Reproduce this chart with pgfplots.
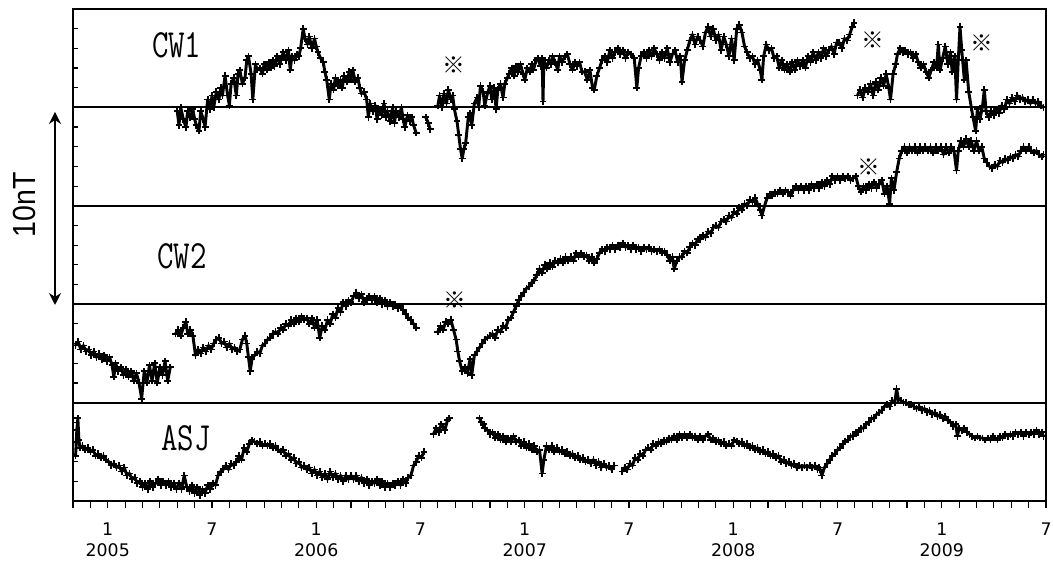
\documentclass[border=0pt]{standalone}
\usepackage{fontspec}
\usepackage{pgfplots}
\pgfplotsset{compat=1.18}
\usetikzlibrary{arrows.meta}
\newfontfamily\tickfnt{DejaVu Sans}
\newfontfamily\arialfnt{Liberation Sans}
\newfontfamily\cjkfnt{Noto Sans CJK JP}
\pgfplotsset{trace/.style={black, line width=2.2pt, line join=round, mark=+, mark size=2.6pt, mark options={line width=1.3pt}}}
\begin{document}
\begin{tikzpicture}
\begin{axis}[name=ax, scale only axis, width=729.75pt, height=369pt,
 xmin=-2, xmax=54, ymin=0, ymax=25,
 axis line style={line width=1.2pt},
 xtick={-2,...,54},
 xticklabels={,,{1\\[-2pt]2005},,,,,,7,,,,,,{1\\[-2pt]2006},,,,,,7,,,,,,{1\\[-2pt]2007},,,,,,7,,,,,,{1\\[-2pt]2008},,,,,,7,,,,,,{1\\[-2pt]2009},,,,,,7},
 xtick align=outside, xtick pos=bottom,
 ytick={1,...,24}, yticklabels={}, ytick align=inside, ytick pos=left,
 major tick length=3.5pt,
 xtick style={/pgfplots/major tick length=5pt},
 tick style={black, line width=0.9pt},
 xticklabel shift=9.5pt,
 xticklabel style={align=center, font={\tickfnt\fontsize{13}{17.5}\selectfont}},
 unbounded coords=jump, clip=false,
]
\draw[line width=1.4pt] (axis cs:-2,5) -- (axis cs:54,5);
\draw[line width=1.4pt] (axis cs:-2,10) -- (axis cs:54,10);
\draw[line width=1.4pt] (axis cs:-2,15) -- (axis cs:54,15);
\draw[line width=1.4pt] (axis cs:-2,20) -- (axis cs:54,20);
% CW1
\addplot[trace] coordinates {
(4.0,19.8) (4.1,19.1) (4.2,20.0) (4.35,19.4) (4.5,19.0) (4.6,19.8) (4.75,19.5) (4.9,19.9) (5.0,19.4) (5.1,19.1) (5.25,18.8) (5.35,19.8) (5.5,19.4) (5.6,19.0) (5.75,20.4) (5.9,19.9) (6.0,20.6) (6.1,20.0) (6.25,20.8) (6.4,20.4) (6.5,21.0) (6.6,20.6) (6.75,21.6) (6.9,20.6) (7.0,20.1) (7.1,21.2) (7.25,21.5) (7.4,20.6) (7.5,21.7) (7.6,21.9) (7.75,21.2) (7.9,21.5) (8.0,22.4) (8.1,22.6) (8.25,21.7) (8.35,20.4) (8.5,22.2) (8.6,21.9) (8.75,22.0) (8.9,21.7) (9.0,22.2) (9.15,21.9) (9.25,22.3) (9.4,22.0) (9.5,22.4) (9.6,22.1) (9.75,22.6) (9.9,22.2) (10.0,22.5) (10.1,22.8) (10.25,22.4) (10.4,22.9) (10.5,21.9) (10.6,22.6) (10.75,22.4) (10.9,22.7) (11.0,22.6) (11.1,23.0) (11.25,24.0) (11.35,23.5) (11.5,23.2) (11.6,23.6) (11.75,23.0) (11.9,23.5) (12.0,23.1) (12.1,22.8) (12.25,22.5) (12.4,22.3) (12.5,21.8) (12.6,21.4) (12.75,20.4) (12.85,21.2) (13.0,20.9) (13.1,21.5) (13.25,21.1) (13.4,21.4) (13.5,21.0) (13.6,21.6) (13.75,21.3) (13.9,21.8) (14.0,21.4) (14.1,21.9) (14.25,21.3) (14.4,21.5) (14.5,21.0) (14.6,20.7) (14.75,20.8) (14.9,20.4) (15.0,19.5) (15.1,20.2) (15.25,19.8) (15.4,20.1) (15.5,19.4) (15.6,19.9) (15.75,19.6) (15.9,20.2) (16.0,19.5) (16.1,19.8) (16.25,19.3) (16.4,20.0) (16.5,19.2) (16.6,19.8) (16.75,19.5) (16.9,20.0) (17.0,19.4) (17.1,19.0) (17.25,19.6) (17.4,19.3) (17.5,19.5) (17.6,19.1) (17.75,18.7) (17.8,nan)
(18.3,19.5) (18.45,19.2) (18.55,18.9) (18.6,nan)
(19.0,20.1) (19.1,20.6) (19.25,20.0) (19.35,20.7) (19.5,20.2) (19.6,20.9) (19.75,20.4) (19.85,20.6) (19.95,19.9) (20.1,19.3) (20.2,18.6) (20.3,17.9) (20.4,17.4) (20.5,17.9) (20.6,18.2) (20.75,19.5) (20.85,19.7) (20.95,19.1) (21.1,20.2) (21.25,20.5) (21.35,20.0) (21.45,21.1) (21.6,20.8) (21.7,20.1) (21.85,20.7) (22.0,21.1) (22.1,20.4) (22.25,21.0) (22.35,19.9) (22.45,20.9) (22.6,21.2) (22.75,20.5) (22.85,21.2) (23.0,21.5) (23.1,21.7) (23.25,22.0) (23.4,21.6) (23.5,22.1) (23.6,21.8) (23.75,22.2) (23.9,21.7) (24.0,21.4) (24.15,22.0) (24.3,21.8) (24.4,22.2) (24.5,21.9) (24.65,22.4) (24.75,22.5) (24.9,22.1) (25.0,22.5) (25.05,20.3) (25.1,22.4) (25.25,22.0) (25.4,22.4) (25.5,22.2) (25.6,22.6) (25.75,22.3) (25.9,21.9) (26.0,22.6) (26.15,22.3) (26.3,22.6) (26.45,22.7) (26.6,22.2) (26.75,21.9) (26.9,22.3) (27.0,22.1) (27.15,22.3) (27.3,21.8) (27.45,21.8) (27.6,21.4) (27.75,21.9) (27.9,21.0) (28.0,20.9) (28.15,21.6) (28.3,22.0) (28.45,22.4) (28.6,22.6) (28.75,22.3) (28.9,22.9) (29.05,22.5) (29.2,22.8) (29.35,23.0) (29.5,22.7) (29.65,22.9) (29.8,22.5) (29.95,22.8) (30.1,22.7) (30.3,22.5) (30.45,21.0) (30.55,22.0) (30.7,22.6) (30.85,22.8) (31.0,22.5) (31.15,22.9) (31.3,22.6) (31.45,23.0) (31.6,22.7) (31.75,22.4) (31.9,22.8) (32.05,22.5) (32.2,23.0) (32.35,22.3) (32.5,22.7) (32.65,22.9) (32.8,22.3) (32.95,22.6) (33.05,21.3) (33.2,22.4) (33.35,22.9) (33.5,23.4) (33.65,23.7) (33.8,23.2) (33.95,23.6) (34.1,23.4) (34.25,23.1) (34.4,23.8) (34.55,24.1) (34.7,23.6) (34.85,24.0) (35.0,23.4) (35.15,23.7) (35.3,22.9) (35.45,23.6) (35.6,23.2) (35.75,22.6) (35.9,23.5) (36.05,22.4) (36.2,24.0) (36.35,24.2) (36.5,23.8) (36.65,23.1) (36.8,22.8) (36.95,22.5) (37.1,22.6) (37.25,22.2) (37.4,22.4) (37.55,21.9) (37.65,21.4) (37.75,22.6) (37.9,23.2) (38.05,22.9) (38.2,23.0) (38.35,22.5) (38.5,22.6) (38.65,22.0) (38.8,22.4) (38.95,21.9) (39.1,22.2) (39.25,21.8) (39.4,22.3) (39.55,21.9) (39.7,22.4) (39.85,22.1) (40.0,22.4) (40.15,22.0) (40.3,22.6) (40.45,22.3) (40.6,22.8) (40.75,22.4) (40.9,22.8) (41.05,22.5) (41.2,23.0) (41.35,22.6) (41.5,22.9) (41.65,23.1) (41.8,22.7) (41.95,23.3) (42.1,23.3) (42.25,23.0) (42.4,23.5) (42.55,23.4) (42.7,23.7) (42.85,24.1) (42.95,24.3) (43.0,nan)
(43.15,20.6) (43.3,20.9) (43.45,20.5) (43.6,21.0) (43.75,20.8) (43.9,21.2) (44.05,20.6) (44.2,21.3) (44.35,20.9) (44.5,21.5) (44.65,21.1) (44.8,21.7) (44.95,21.0) (45.05,20.4) (45.2,21.7) (45.35,22.2) (45.45,22.7) (45.6,23.0) (45.75,22.8) (45.9,22.9) (46.05,22.7) (46.2,22.8) (46.35,22.5) (46.5,22.7) (46.65,22.3) (46.8,22.0) (46.95,22.2) (47.1,21.8) (47.25,21.5) (47.4,21.9) (47.55,22.3) (47.7,22.0) (47.8,23.2) (47.9,21.9) (48.05,22.5) (48.2,23.1) (48.35,22.2) (48.5,22.8) (48.6,21.8) (48.75,22.6) (48.85,20.4) (48.95,22.4) (49.05,24.1) (49.15,22.9) (49.3,21.4) (49.4,22.4) (49.55,20.8) (49.7,20.0) (49.8,19.5) (49.95,18.8) (50.05,19.9) (50.2,19.4) (50.35,20.1) (50.45,20.9) (50.55,19.8) (50.7,19.5) (50.85,19.8) (51.0,19.6) (51.15,19.9) (51.3,19.7) (51.45,20.1) (51.6,19.9) (51.75,20.4) (51.9,20.2) (52.05,20.5) (52.2,20.3) (52.35,20.6) (52.5,20.4) (52.65,20.5) (52.8,20.3) (52.95,20.4) (53.1,20.2) (53.25,20.4) (53.4,20.2) (53.55,20.3) (53.7,20.1) (53.85,20.0)
};
% CW2
\addplot[trace] coordinates {
(-1.85,7.9) (-1.7,8.1) (-1.55,7.7) (-1.4,7.9) (-1.25,7.6) (-1.1,7.7) (-0.95,7.4) (-0.8,7.6) (-0.65,7.3) (-0.5,7.5) (-0.35,7.2) (-0.2,7.4) (-0.05,7.1) (0.1,7.3) (0.25,6.9) (0.35,6.3) (0.45,7.0) (0.6,6.6) (0.75,6.8) (0.9,6.4) (1.05,6.7) (1.2,6.3) (1.35,6.6) (1.5,6.1) (1.65,6.5) (1.8,6.0) (1.95,5.2) (2.1,6.6) (2.25,6.0) (2.4,6.9) (2.55,6.1) (2.7,7.0) (2.85,6.0) (3.0,6.8) (3.15,6.4) (3.3,7.1) (3.45,6.1) (3.6,6.8) (3.7,nan)
(3.9,8.5) (4.05,8.7) (4.2,8.4) (4.35,8.8) (4.5,9.1) (4.6,8.5) (4.75,8.7) (4.9,8.4) (5.05,7.4) (5.2,7.7) (5.35,7.5) (5.5,7.8) (5.65,7.6) (5.8,7.9) (5.95,7.7) (6.1,8.0) (6.25,8.2) (6.4,8.3) (6.55,8.0) (6.7,8.1) (6.85,7.8) (7.0,8.0) (7.15,7.7) (7.3,7.8) (7.45,7.6) (7.6,7.7) (7.75,8.2) (7.9,8.4) (8.0,8.0) (8.1,7.3) (8.2,6.6) (8.3,7.2) (8.45,7.4) (8.6,7.6) (8.75,7.5) (8.9,7.9) (9.05,8.0) (9.2,8.2) (9.35,8.3) (9.5,8.5) (9.65,8.6) (9.8,8.5) (9.95,8.8) (10.1,8.7) (10.25,9.0) (10.4,8.9) (10.55,9.2) (10.7,9.0) (10.85,9.3) (11.0,9.1) (11.15,9.4) (11.3,9.2) (11.45,9.3) (11.6,9.0) (11.75,9.3) (11.9,8.8) (12.05,9.2) (12.2,8.3) (12.35,8.9) (12.5,8.7) (12.65,9.2) (12.8,9.0) (12.95,9.5) (13.1,9.3) (13.25,9.8) (13.4,9.6) (13.55,10.1) (13.7,9.9) (13.85,10.2) (14.0,10.1) (14.15,10.4) (14.3,10.6) (14.45,10.3) (14.6,10.5) (14.75,10.1) (14.9,10.3) (15.05,10.4) (15.2,10.2) (15.35,10.4) (15.5,10.1) (15.65,10.3) (15.8,10.0) (15.95,10.2) (16.1,9.9) (16.25,10.1) (16.4,9.9) (16.55,10.0) (16.7,9.8) (16.85,9.9) (17.0,9.7) (17.15,9.5) (17.3,9.3) (17.45,9.2) (17.6,9.0) (17.75,8.8) (17.8,nan)
(19.0,8.6) (19.15,8.9) (19.3,8.7) (19.45,9.1) (19.6,9.0) (19.75,9.2) (19.9,8.7) (20.05,8.2) (20.15,7.6) (20.25,7.1) (20.4,6.6) (20.55,6.8) (20.7,6.5) (20.85,7.2) (20.95,6.4) (21.1,7.4) (21.25,7.6) (21.4,7.8) (21.55,8.0) (21.7,8.2) (21.85,8.3) (22.0,8.4) (22.15,8.5) (22.3,8.3) (22.45,8.7) (22.6,8.6) (22.75,8.9) (22.9,8.8) (23.05,9.2) (23.2,9.3) (23.35,9.6) (23.5,9.9) (23.65,10.2) (23.8,10.4) (23.95,10.6) (24.1,10.8) (24.25,10.9) (24.4,11.1) (24.55,11.2) (24.7,11.5) (24.85,11.8) (25.0,11.6) (25.15,12.0) (25.3,11.8) (25.45,12.1) (25.6,11.9) (25.75,12.2) (25.9,12.1) (26.05,12.3) (26.2,12.1) (26.35,12.4) (26.5,12.2) (26.65,12.4) (26.8,12.2) (26.95,12.6) (27.1,12.4) (27.25,12.6) (27.4,12.4) (27.55,12.5) (27.7,12.2) (27.85,12.4) (28.0,12.1) (28.15,12.3) (28.3,12.6) (28.45,12.8) (28.6,12.7) (28.75,12.9) (28.9,12.8) (29.05,13.0) (29.2,12.8) (29.35,13.0) (29.5,12.9) (29.65,13.1) (29.8,12.9) (29.95,13.0) (30.1,12.8) (30.25,13.0) (30.4,12.8) (30.55,12.9) (30.7,12.7) (30.85,12.9) (31.0,12.8) (31.15,12.9) (31.3,12.7) (31.45,12.8) (31.6,12.7) (31.75,12.8) (31.9,12.6) (32.05,12.7) (32.2,12.5) (32.35,12.2) (32.5,12.4) (32.6,11.8) (32.75,12.2) (32.9,12.4) (33.05,12.4) (33.2,12.7) (33.35,12.6) (33.5,12.9) (33.65,13.1) (33.8,13.0) (33.95,13.3) (34.1,13.3) (34.25,13.5) (34.4,13.4) (34.55,13.7) (34.7,13.6) (34.85,13.9) (35.0,14.0) (35.15,13.9) (35.3,14.2) (35.45,14.3) (35.6,14.2) (35.75,14.5) (35.9,14.4) (36.05,14.7) (36.2,14.6) (36.35,14.9) (36.5,14.8) (36.65,15.1) (36.8,15.0) (36.95,15.3) (37.1,15.2) (37.25,15.4) (37.4,15.1) (37.55,14.8) (37.65,14.5) (37.8,15.0) (37.95,15.4) (38.1,15.6) (38.25,15.5) (38.4,15.7) (38.55,15.6) (38.7,15.8) (38.85,15.6) (39.0,15.8) (39.15,15.7) (39.3,15.5) (39.45,15.8) (39.6,16.0) (39.75,15.8) (39.9,16.0) (40.05,15.8) (40.2,16.0) (40.35,15.8) (40.5,16.1) (40.65,15.9) (40.8,16.1) (40.95,15.9) (41.1,16.2) (41.25,16.0) (41.4,16.3) (41.55,16.1) (41.7,16.5) (41.85,16.3) (42.0,16.5) (42.15,16.3) (42.3,16.5) (42.45,16.4) (42.6,16.5) (42.75,16.3) (42.9,16.4) (43.05,16.5) (43.2,16.0) (43.35,15.7) (43.5,16.0) (43.65,15.8) (43.8,16.1) (43.95,15.9) (44.1,16.2) (44.25,15.9) (44.4,16.1) (44.55,16.3) (44.7,15.6) (44.85,16.0) (45.0,15.1) (45.1,16.4) (45.25,15.8) (45.4,16.7) (45.55,17.4) (45.7,17.8) (45.85,18.0) (46.0,17.7) (46.15,18.0) (46.3,17.8) (46.45,18.0) (46.6,17.7) (46.75,18.0) (46.9,17.8) (47.05,18.0) (47.2,17.8) (47.35,18.0) (47.5,17.7) (47.65,18.0) (47.8,17.8) (47.95,18.0) (48.1,17.6) (48.25,18.0) (48.4,17.7) (48.55,18.0) (48.7,17.8) (48.85,16.8) (48.95,17.8) (49.1,18.3) (49.25,18.0) (49.4,18.4) (49.55,18.0) (49.7,18.3) (49.85,17.8) (50.0,18.3) (50.15,17.8) (50.3,18.0) (50.45,17.4) (50.6,17.2) (50.75,17.0) (50.9,16.9) (51.05,17.1) (51.2,17.0) (51.35,17.3) (51.5,17.2) (51.65,17.4) (51.8,17.3) (51.95,17.5) (52.1,17.4) (52.25,17.6) (52.4,17.5) (52.55,17.8) (52.7,18.0) (52.85,17.8) (53.0,18.0) (53.15,17.8) (53.3,17.7) (53.45,17.8) (53.6,17.6) (53.75,17.5) (53.85,17.6)
};
% ASJ
\addplot[trace] coordinates {
(-1.85,2.3) (-1.78,3.6) (-1.72,4.2) (-1.66,3.1) (-1.6,2.7) (-1.45,2.8) (-1.3,2.6) (-1.15,2.7) (-1.0,2.5) (-0.85,2.6) (-0.7,2.3) (-0.55,2.4) (-0.4,2.2) (-0.25,2.3) (-0.1,2.1) (0.05,2.0) (0.2,1.8) (0.35,1.9) (0.5,1.7) (0.65,1.8) (0.8,1.5) (0.95,1.7) (1.1,1.3) (1.25,1.4) (1.4,1.1) (1.55,1.2) (1.7,0.9) (1.85,1.0) (2.0,0.7) (2.15,0.9) (2.3,0.6) (2.45,1.0) (2.6,0.7) (2.75,0.9) (2.9,1.1) (3.05,0.8) (3.2,1.0) (3.35,0.8) (3.5,1.0) (3.65,0.7) (3.8,0.9) (3.95,0.6) (4.1,0.9) (4.25,0.6) (4.4,1.3) (4.55,0.7) (4.7,0.5) (4.85,0.8) (5.0,0.4) (5.15,0.7) (5.3,0.3) (5.45,0.6) (5.6,0.4) (5.75,0.8) (5.9,0.6) (6.05,0.9) (6.2,0.8) (6.35,1.3) (6.5,1.5) (6.65,1.6) (6.8,1.8) (6.95,1.6) (7.1,1.9) (7.25,1.8) (7.4,2.0) (7.55,2.3) (7.7,2.1) (7.85,2.7) (8.0,2.5) (8.15,2.9) (8.3,3.1) (8.45,3.0) (8.6,2.9) (8.75,3.0) (8.9,2.8) (9.05,2.9) (9.2,2.8) (9.35,2.9) (9.5,2.7) (9.65,2.8) (9.8,2.6) (9.95,2.5) (10.1,2.6) (10.25,2.3) (10.4,2.4) (10.55,2.1) (10.7,2.2) (10.85,1.9) (11.0,2.0) (11.15,1.7) (11.3,1.8) (11.45,1.6) (11.6,1.7) (11.75,1.4) (11.9,1.6) (12.05,1.3) (12.2,1.5) (12.35,1.2) (12.5,1.4) (12.65,1.1) (12.8,1.5) (12.95,1.2) (13.1,1.4) (13.25,1.1) (13.4,1.3) (13.55,1.0) (13.7,1.3) (13.85,1.1) (14.0,1.3) (14.15,1.1) (14.3,1.3) (14.45,1.0) (14.6,1.2) (14.75,0.9) (14.9,1.1) (15.05,0.8) (15.2,1.0) (15.35,0.9) (15.5,1.1) (15.65,0.8) (15.8,1.0) (15.95,0.7) (16.1,0.9) (16.25,0.7) (16.4,0.9) (16.55,0.8) (16.7,1.0) (16.85,0.8) (17.0,1.1) (17.15,0.9) (17.3,1.2) (17.45,1.3) (17.6,1.8) (17.75,2.0) (17.9,2.3) (18.05,2.2) (18.2,2.5) (18.3,nan)
(18.75,3.4) (18.9,3.7) (19.05,3.5) (19.2,3.9) (19.4,3.6) (19.55,4.1) (19.65,4.2) (19.7,nan)
(21.4,4.2) (21.5,4.0) (21.6,3.9) (21.7,3.7) (21.85,3.6) (22.0,3.4) (22.15,3.5) (22.3,3.2) (22.45,3.4) (22.6,3.1) (22.75,3.3) (22.9,3.0) (23.05,3.2) (23.2,3.0) (23.35,3.3) (23.5,3.0) (23.65,3.1) (23.8,2.8) (23.95,3.0) (24.1,2.7) (24.25,2.9) (24.4,2.6) (24.55,2.8) (24.7,2.5) (24.85,2.6) (25.0,1.4) (25.1,2.1) (25.25,2.8) (25.4,2.6) (25.55,2.8) (25.7,2.5) (25.85,2.7) (26.0,2.5) (26.15,2.6) (26.3,2.4) (26.45,2.5) (26.6,2.3) (26.75,2.4) (26.9,2.2) (27.05,2.3) (27.2,2.1) (27.35,2.2) (27.5,2.0) (27.65,2.1) (27.8,1.9) (27.95,2.1) (28.1,1.8) (28.25,2.0) (28.4,1.7) (28.55,1.9) (28.7,1.7) (28.85,1.8) (29.0,1.6) (29.15,1.8) (29.3,nan)
(29.6,1.5) (29.75,1.7) (29.9,1.6) (30.05,1.9) (30.2,1.8) (30.35,2.2) (30.5,2.1) (30.65,2.4) (30.8,2.3) (30.95,2.6) (31.1,2.7) (31.25,2.6) (31.4,2.9) (31.55,2.8) (31.7,3.0) (31.85,2.9) (32.0,3.1) (32.15,3.0) (32.3,3.2) (32.45,3.1) (32.6,3.3) (32.75,3.1) (32.9,3.4) (33.05,3.2) (33.2,3.4) (33.35,3.2) (33.5,3.4) (33.65,3.2) (33.8,3.3) (33.95,3.1) (34.1,3.3) (34.25,3.1) (34.4,3.3) (34.55,3.4) (34.7,3.1) (34.85,3.2) (35.0,3.0) (35.15,3.1) (35.3,2.9) (35.45,3.0) (35.6,2.8) (35.75,2.9) (35.9,2.8) (36.05,3.1) (36.2,3.0) (36.35,2.9) (36.5,3.0) (36.65,2.8) (36.8,2.9) (36.95,2.7) (37.1,2.8) (37.25,2.6) (37.4,2.7) (37.55,2.5) (37.7,2.6) (37.85,2.4) (38.0,2.5) (38.15,2.3) (38.3,2.4) (38.45,2.2) (38.6,2.3) (38.75,2.0) (38.9,2.1) (39.05,1.9) (39.2,2.0) (39.35,1.8) (39.5,1.9) (39.65,1.7) (39.8,1.8) (39.95,1.7) (40.1,1.8) (40.25,1.7) (40.4,1.8) (40.55,1.7) (40.7,1.8) (40.85,1.6) (40.95,1.7) (41.0,1.6) (41.1,1.3) (41.25,1.7) (41.4,1.9) (41.55,2.1) (41.7,2.3) (41.85,2.4) (42.0,2.6) (42.15,2.7) (42.3,2.9) (42.45,3.0) (42.6,3.1) (42.75,3.3) (42.9,3.3) (43.05,3.5) (43.2,3.5) (43.35,3.7) (43.5,3.7) (43.65,3.9) (43.8,4.0) (43.95,4.2) (44.1,4.2) (44.25,4.4) (44.4,4.5) (44.55,4.6) (44.7,4.8) (44.85,4.9) (45.0,4.8) (45.15,5.1) (45.3,5.0) (45.4,5.7) (45.5,5.2) (45.65,5.1) (45.8,5.0) (45.95,5.0) (46.1,4.9) (46.25,4.9) (46.4,4.8) (46.55,4.7) (46.7,4.8) (46.85,4.6) (47.0,4.7) (47.15,4.5) (47.3,4.6) (47.45,4.4) (47.6,4.5) (47.75,4.3) (47.9,4.4) (48.05,4.2) (48.2,4.3) (48.35,4.1) (48.5,4.0) (48.65,3.8) (48.8,3.9) (48.9,3.3) (49.0,3.7) (49.15,3.6) (49.3,3.7) (49.45,3.5) (49.6,3.4) (49.75,3.3) (49.9,3.2) (50.05,3.3) (50.2,3.2) (50.35,3.2) (50.5,3.1) (50.65,3.2) (50.8,3.1) (50.95,3.3) (51.05,3.2) (51.2,3.1) (51.35,3.3) (51.5,3.2) (51.65,3.4) (51.8,3.3) (51.95,3.4) (52.1,3.3) (52.25,3.5) (52.4,3.4) (52.55,3.5) (52.7,3.3) (52.85,3.5) (53.0,3.4) (53.15,3.5) (53.3,3.4) (53.45,3.6) (53.6,3.4) (53.75,3.5) (53.85,3.3)
};
% labels
\node at (axis cs:3.97,23.17) {\ttfamily\fontsize{24}{24}\selectfont\scalebox{1}[1.25]{CW1}};
\node at (axis cs:4.26,12.45) {\ttfamily\fontsize{24}{24}\selectfont\scalebox{1}[1.25]{CW2}};
\node at (axis cs:4.49,3.2) {\ttfamily\fontsize{24}{24}\selectfont\scalebox{1}[1.25]{ASJ}};
\node at (axis cs:19.9,22.15) {\cjkfnt\fontsize{17}{17}\selectfont ※};
\node at (axis cs:44.05,23.42) {\cjkfnt\fontsize{17}{17}\selectfont ※};
\node at (axis cs:50.3,23.27) {\cjkfnt\fontsize{17}{17}\selectfont ※};
\node at (axis cs:20.0,10.21) {\cjkfnt\fontsize{17}{17}\selectfont ※};
\node at (axis cs:43.8,16.97) {\cjkfnt\fontsize{17}{17}\selectfont ※};
\end{axis}
\draw[{Stealth[length=9pt,width=9pt]}-{Stealth[length=9pt,width=9pt]}, line width=1.2pt]
  ([xshift=-13.5pt,yshift=147pt]ax.south west) -- ([xshift=-13.5pt,yshift=291.75pt]ax.south west);
\node[rotate=90] at ([xshift=-36.75pt,yshift=222pt]ax.south west) {\arialfnt\fontsize{24}{24}\selectfont\scalebox{0.89}[1]{10nT}};
\pgfresetboundingbox
\path[use as bounding box] ([xshift=-54.75pt,yshift=-45.75pt]ax.south west) rectangle ([xshift=5.25pt,yshift=6.75pt]ax.north east);
\end{tikzpicture}
\end{document}
